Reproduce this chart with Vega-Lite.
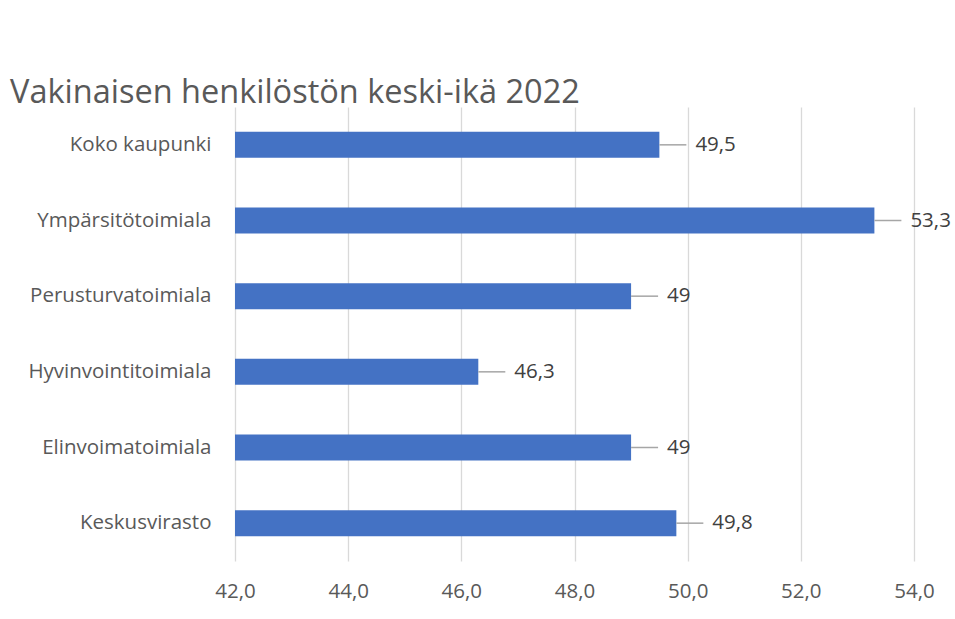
{
  "$schema": "https://vega.github.io/schema/vega-lite/v6.json",
  "width": 679,
  "height": 454,
  "autosize": {"type": "none"},
  "padding": {"left": 235, "top": 107, "right": 41, "bottom": 58},
  "background": "white",
  "config": {
    "locale": {"number": {"decimal": ",", "thousands": " ", "grouping": [3], "currency": ["", " €"]}},
    "view": {"stroke": null},
    "font": "Open Sans"
  },
  "title": {
    "text": "Vakinaisen henkilöstön keski-ikä 2022",
    "anchor": "start",
    "frame": "group",
    "dx": -225,
    "offset": -28,
    "baseline": "alphabetic",
    "fontSize": 32.5,
    "fontWeight": "normal",
    "color": "#595959",
    "font": "Open Sans"
  },
  "data": {
    "values": [
      {"ala": "Koko kaupunki", "ika": 49.5},
      {"ala": "Ympärsitötoimiala", "ika": 53.3},
      {"ala": "Perusturvatoimiala", "ika": 49},
      {"ala": "Hyvinvointitoimiala", "ika": 46.3},
      {"ala": "Elinvoimatoimiala", "ika": 49},
      {"ala": "Keskusvirasto", "ika": 49.8}
    ]
  },
  "encoding": {
    "y": {
      "field": "ala",
      "type": "nominal",
      "sort": null,
      "title": null,
      "scale": {"paddingInner": 0.657, "paddingOuter": 0.3285},
      "axis": {"domain": false, "ticks": false, "labelPadding": 24, "labelLimit": 400, "labelFontSize": 20.5, "labelColor": "#595959", "labelFont": "Open Sans"}
    }
  },
  "layer": [
    {
      "mark": {"type": "bar", "color": "#4472C4"},
      "encoding": {
        "x": {
          "field": "ika",
          "type": "quantitative",
          "title": null,
          "scale": {"domain": [42, 54], "nice": false, "zero": false},
          "axis": {"values": [42, 44, 46, 48, 50, 52, 54], "format": ".1f", "domain": false, "ticks": false, "labelFlush": false, "labelPadding": 20, "labelFontSize": 20.5, "labelColor": "#595959", "labelFont": "Open Sans", "gridColor": "#d9d9d9", "gridWidth": 1.3}
        },
        "x2": {"datum": 42}
      }
    },
    {
      "mark": {"type": "rule", "color": "#a6a6a6", "strokeWidth": 1.5, "x2Offset": 27},
      "encoding": {
        "x": {"field": "ika", "type": "quantitative"},
        "x2": {"field": "ika"}
      }
    },
    {
      "mark": {"type": "text", "align": "left", "baseline": "middle", "dx": 36, "fontSize": 20.5, "color": "#404040", "font": "Open Sans"},
      "encoding": {
        "x": {"field": "ika", "type": "quantitative"},
        "text": {"field": "ika", "type": "quantitative", "format": ".3~g"}
      }
    }
  ]
}
